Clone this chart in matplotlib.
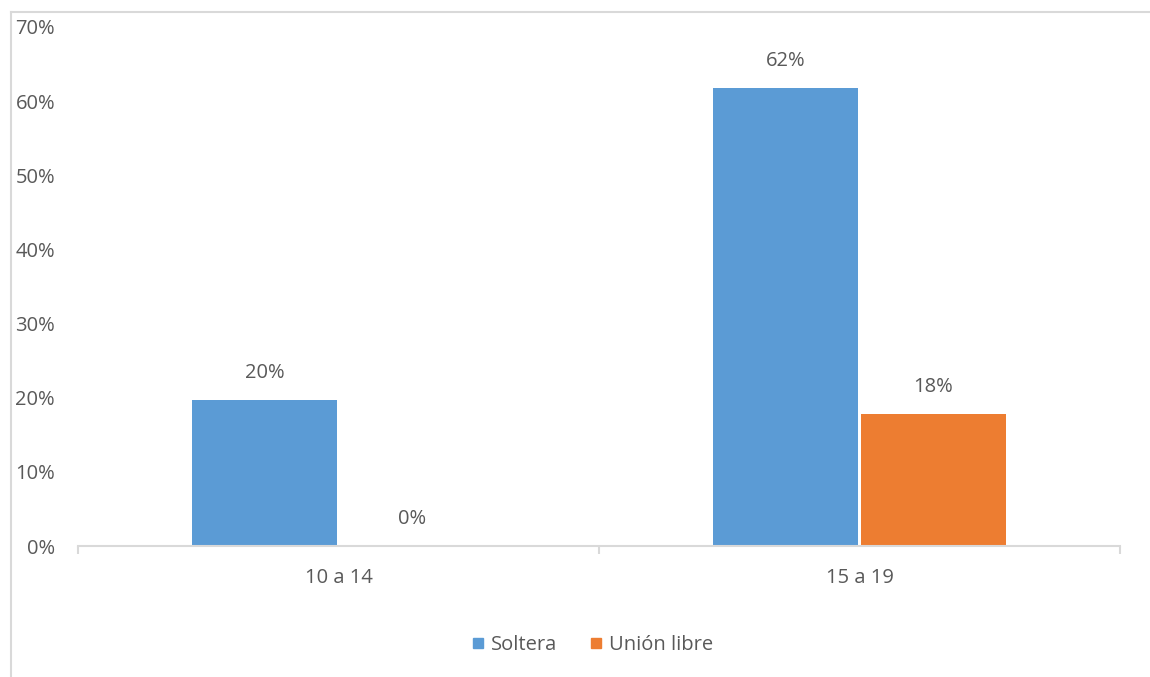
import matplotlib.pyplot as plt
from matplotlib.lines import Line2D
import numpy as np

plt.rcParams['font.family'] = ['Open Sans', 'DejaVu Sans']

categories = ["10 a 14", "15 a 19"]
soltera = [0.197, 0.618]
union_libre = [0.0, 0.178]
series_names = ["Soltera", "Unión libre"]
yticks = [0, 0.1, 0.2, 0.3, 0.4, 0.5, 0.6, 0.7]

BLUE = "#5B9BD5"
ORANGE = "#ED7D31"
TEXT = "#595959"
AXIS = "#D9D9D9"
FS = 14.5

fig = plt.figure(figsize=(11.5, 6.77), dpi=100)
ax = fig.add_axes([78 / 1150, 1 - 546 / 677, (1120 - 78) / 1150, (546 - 27) / 677])

x = np.arange(len(categories))
w = 0.277
b1 = ax.bar(x - 0.142, soltera, w, color=BLUE)
b2 = ax.bar(x + 0.142, union_libre, w, color=ORANGE)

for bars, vals in [(b1, soltera), (b2, union_libre)]:
    for rect, v in zip(bars, vals):
        ax.annotate(f"{v:.0%}", (rect.get_x() + rect.get_width() / 2, v),
                    xytext=(0, 19.5), textcoords="offset points",
                    ha="center", va="center", fontsize=FS, color=TEXT)

ax.set_xlim(-0.5, 1.5)
ax.set_ylim(0, 0.7)
ax.set_yticks(yticks)
ax.set_yticklabels([f"{t:.0%}" for t in yticks], fontsize=FS, color=TEXT)
ax.set_xticks(x)
ax.set_xticklabels(categories, fontsize=FS, color=TEXT)
ax.set_xticks([-0.5, 0.5, 1.5], minor=True)
ax.tick_params(axis="x", which="major", length=0, pad=15.5)
ax.tick_params(axis="x", which="minor", length=6, width=1.5, color=AXIS)
ax.tick_params(axis="y", length=0, pad=16.5)

for s in ["top", "right", "left"]:
    ax.spines[s].set_visible(False)
ax.spines["bottom"].set_color(AXIS)
ax.spines["bottom"].set_linewidth(1.5)

handles = [Line2D([], [], marker="s", linestyle="none", markersize=7, color=c)
           for c in (BLUE, ORANGE)]
fig.legend(handles, series_names, loc="center", bbox_to_anchor=(592 / 1150, 1 - 645 / 677),
           ncol=2, frameon=False, fontsize=FS, labelcolor=TEXT,
           handlelength=0.7, handletextpad=0.3, columnspacing=1.6)

# chart frame (only top and left edges are visible in the crop)
fig.add_artist(Line2D([10.5 / 1150, 1], [1 - 11.5 / 677, 1 - 11.5 / 677],
                      transform=fig.transFigure, color=AXIS, lw=1.5))
fig.add_artist(Line2D([10.5 / 1150, 10.5 / 1150], [0, 1 - 11.5 / 677],
                      transform=fig.transFigure, color=AXIS, lw=1.5))

fig.savefig("out.png", dpi=100)
